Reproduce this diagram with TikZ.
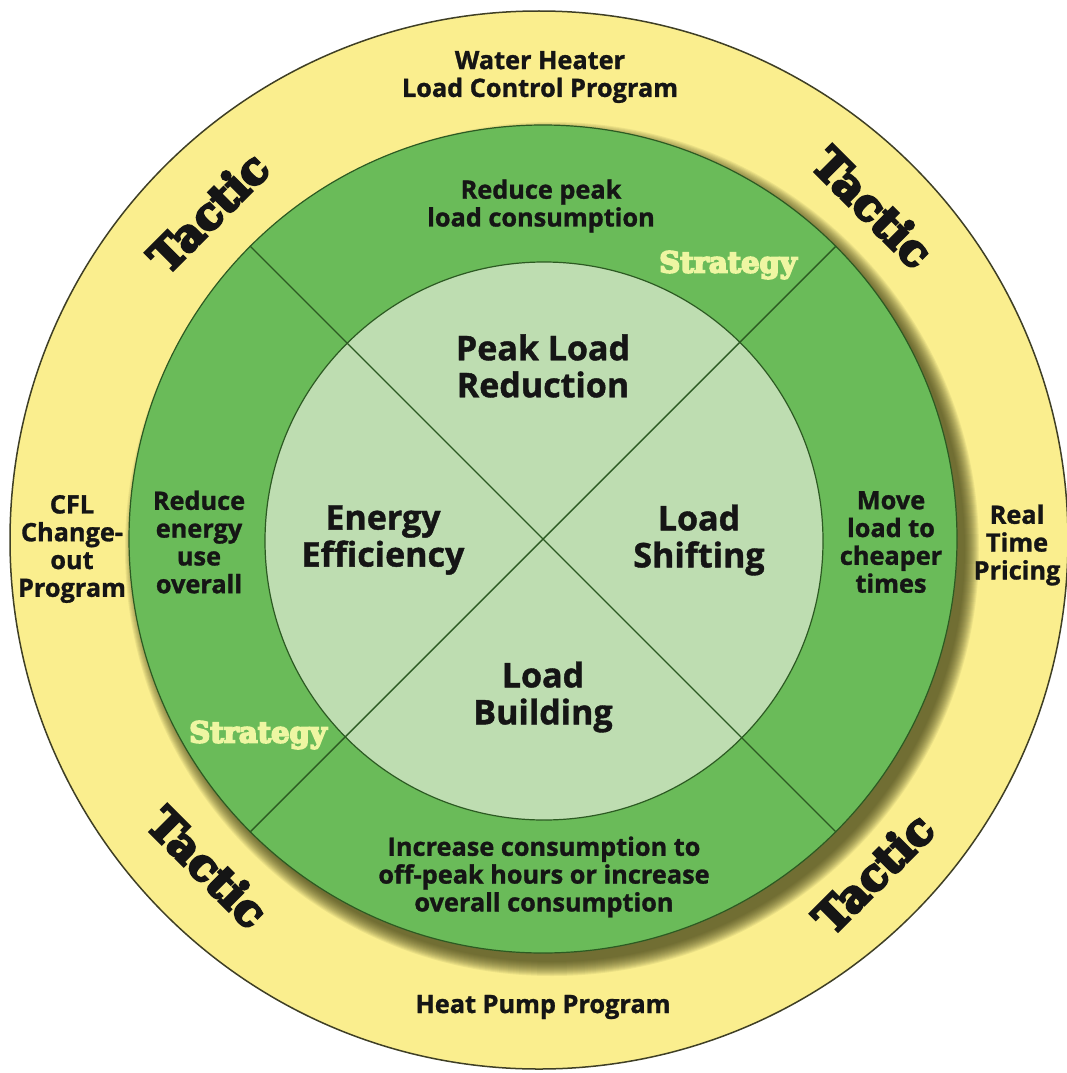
\documentclass[tikz,border=0pt]{standalone}
\usepackage{fontspec}
\setmainfont{Open Sans}[BoldFeatures={FakeBold=1.2}]
\newfontfamily\tacfont{DejaVu Serif}[BoldFeatures={FakeBold=6}]
\definecolor{yel}{HTML}{FAEE8E}
\definecolor{yelline}{HTML}{3F3F25}
\definecolor{grn}{HTML}{6ABB59}
\definecolor{lgrn}{HTML}{BEDDB1}
\definecolor{dgrn}{HTML}{2C5A22}
\definecolor{stxt}{HTML}{EEF6A2}
\definecolor{txt}{HTML}{151515}
\definecolor{shad}{HTML}{3A3A10}
\tikzset{
  lbl/.style={text=txt, align=center, font=\bfseries\fontsize{25.3}{27.8}\selectfont, inner sep=0pt},
  biglbl/.style={text=txt, align=center, font=\bfseries\fontsize{34}{37}\selectfont, inner sep=0pt},
  tactic/.style={text=txt, inner sep=0pt, font=\tacfont\bfseries\fontsize{44}{44}\selectfont},
  strat/.style={text=stxt, inner sep=0pt, font=\tacfont\bfseries\fontsize{29}{29}\selectfont},
  divider/.style={draw=dgrn, line width=1.4pt}
}
\begin{document}
\begin{tikzpicture}[x=1pt,y=-1pt]
\useasboundingbox (0,0) rectangle (1066,1073);
\fill[white] (0,0) rectangle (1066,1073);
% outer yellow disc
\node[circle, minimum size=1058pt, inner sep=0pt, fill=yel, draw=yelline, line width=1.5pt] (outer) at (539,540) {};
% soft shadow of green ring
\foreach \k in {0,...,14} {
  \fill[shad, opacity=0.075] (552,549) circle ({413+\k});
}
% green ring
\node[circle, minimum size=828pt, inner sep=0pt, fill=grn, draw=dgrn, line width=1.2pt] (ring) at (543,539) {};
% inner light disc
\node[circle, minimum size=558pt, inner sep=0pt, fill=lgrn, draw=dgrn, line width=1.2pt] (core) at (544,541) {};
% diagonals
\draw[divider] (ring.135) -- (ring.-45);
\draw[divider] (ring.45) -- (ring.-135);

% core labels
\node[biglbl] (plr) at (543,366) {Peak Load\\Reduction};
\node[biglbl] (ee) at (383,540) {Energy\\Efficiency};
\node[biglbl] (ls) at (699,540) {Load\\Shifting};
\node[biglbl] (lb) at (543,697) {Load\\Building};

% ring labels
\node[lbl] (rpl) at (541,206) {Reduce peak\\load consumption};
\node[lbl] (reu) at (199,542) {Reduce\\energy\\use\\overall};
\node[lbl] (mlc) at (891,542) {Move\\load to\\cheaper\\times};
\node[lbl] (icp) at (544,877) {Increase consumption to\\off-peak hours or increase\\overall consumption};
\node[strat] (s1) at (728,265) {Strategy};
\node[strat] (s2) at (258,735) {Strategy};

% outer labels
\node[lbl] (wh) at (540,77) {Water Heater\\Load Control Program};
\node[lbl] (cfl) at (72,549) {CFL\\Change-\\out\\Program};
\node[lbl] (rtp) at (1017,545) {Real\\Time\\Pricing};
\node[lbl] (hpp) at (543,1007) {Heat Pump Program};

\node[tactic, rotate=45] (t1) at (208,212) {Tactic};
\node[tactic, rotate=-45] (t2) at (873,207) {Tactic};
\node[tactic, rotate=-45] (t3) at (208,867) {Tactic};
\node[tactic, rotate=45] (t4) at (873,873) {Tactic};
\end{tikzpicture}
\end{document}
